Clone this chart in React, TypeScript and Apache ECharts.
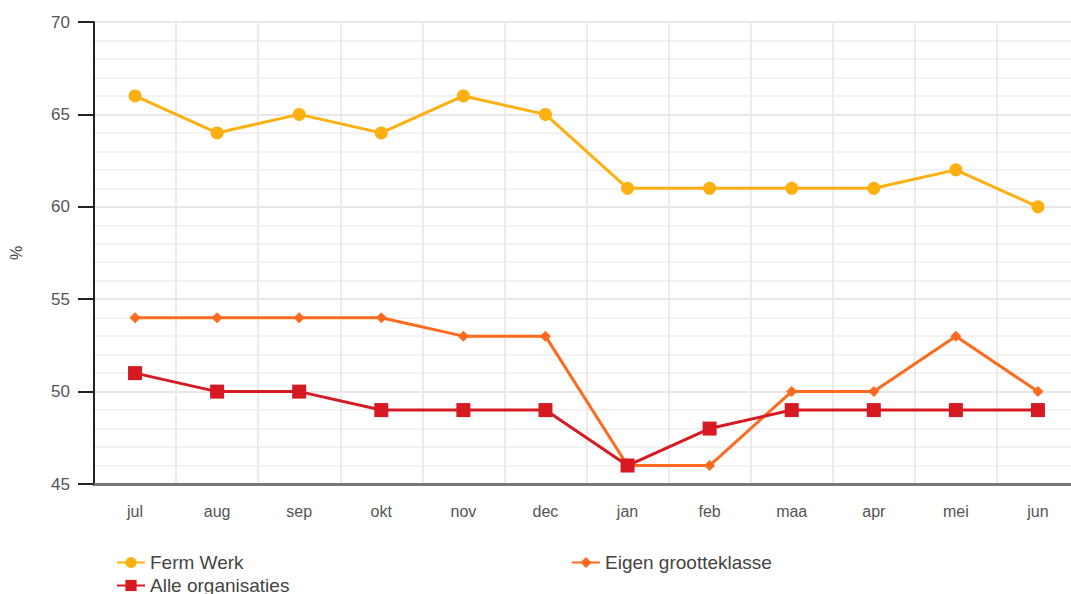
import React, { useEffect, useRef } from "react";
import * as echarts from "echarts";

const categories = ["jul", "aug", "sep", "okt", "nov", "dec", "jan", "feb", "maa", "apr", "mei", "jun"];
const fermWerk = [66, 64, 65, 64, 66, 65, 61, 61, 61, 61, 62, 60];
const eigenGrootteklasse = [54, 54, 54, 54, 53, 53, 46, 46, 50, 50, 53, 50];
const alleOrganisaties = [51, 50, 50, 49, 49, 49, 46, 48, 49, 49, 49, 49];
const seriesNames = ["Ferm Werk", "Eigen grootteklasse", "Alle organisaties"];

export default function App() {
  const ref = useRef<HTMLDivElement>(null);
  useEffect(() => {
    if (!ref.current) return;
    const chart = echarts.init(ref.current, undefined, { renderer: "svg" });
    const font = "Arial, 'Liberation Sans', sans-serif";
    const legendText = { fontSize: 19, color: "#444", fontFamily: font };
    const legendBase = { itemWidth: 28, itemHeight: 14, itemGap: 10, textStyle: legendText };
    chart.setOption({
      animation: false,
      textStyle: { fontFamily: font },
      grid: { left: 93, top: 22, right: 0, bottom: 110, containLabel: false },
      legend: [
        { ...legendBase, data: [seriesNames[0]], left: 111, top: 548 },
        { ...legendBase, data: [seriesNames[1]], left: 566, top: 548 },
        { ...legendBase, data: [seriesNames[2]], left: 111, top: 571 },
      ],
      xAxis: {
        type: "category",
        data: categories,
        boundaryGap: true,
        axisLine: { lineStyle: { color: "#777", width: 3 } },
        axisTick: { show: false },
        axisLabel: { color: "#555", fontSize: 16, margin: 19 },
        splitLine: { show: true, lineStyle: { color: "#eeeaea", width: 2 } },
      },
      yAxis: {
        type: "value",
        min: 45,
        max: 70,
        interval: 5,
        name: "%",
        nameLocation: "middle",
        nameGap: 70,
        nameRotate: 90,
        nameTextStyle: { color: "#444", fontSize: 16 },
        axisLine: { show: true, lineStyle: { color: "#222", width: 2 } },
        axisTick: { show: true, length: 16, lineStyle: { color: "#222", width: 2 } },
        axisLabel: { color: "#555", fontSize: 17, margin: 24 },
        splitLine: { show: true, lineStyle: { color: "#e8e6e6", width: 2 } },
        minorTick: { show: false, splitNumber: 5 },
        minorSplitLine: { show: true, lineStyle: { color: "#f3f1f1", width: 2 } },
      },
      series: [
        {
          name: seriesNames[0],
          type: "line",
          data: fermWerk,
          color: "#FDB00F",
          symbol: "circle",
          symbolSize: 13,
          lineStyle: { width: 3 },
          z: 3,
        },
        {
          name: seriesNames[1],
          type: "line",
          data: eigenGrootteklasse,
          color: "#FF6B1E",
          symbol: "diamond",
          symbolSize: 11,
          lineStyle: { width: 3 },
          z: 2,
        },
        {
          name: seriesNames[2],
          type: "line",
          data: alleOrganisaties,
          color: "#D61A22",
          symbol: "rect",
          symbolSize: 14,
          lineStyle: { width: 3 },
          z: 4,
        },
      ],
    });
    return () => chart.dispose();
  }, []);
  return (
    <div
      ref={ref}
      style={{ position: "fixed", left: 0, top: 0, width: 1079, height: 594, background: "#fff" }}
    />
  );
}
